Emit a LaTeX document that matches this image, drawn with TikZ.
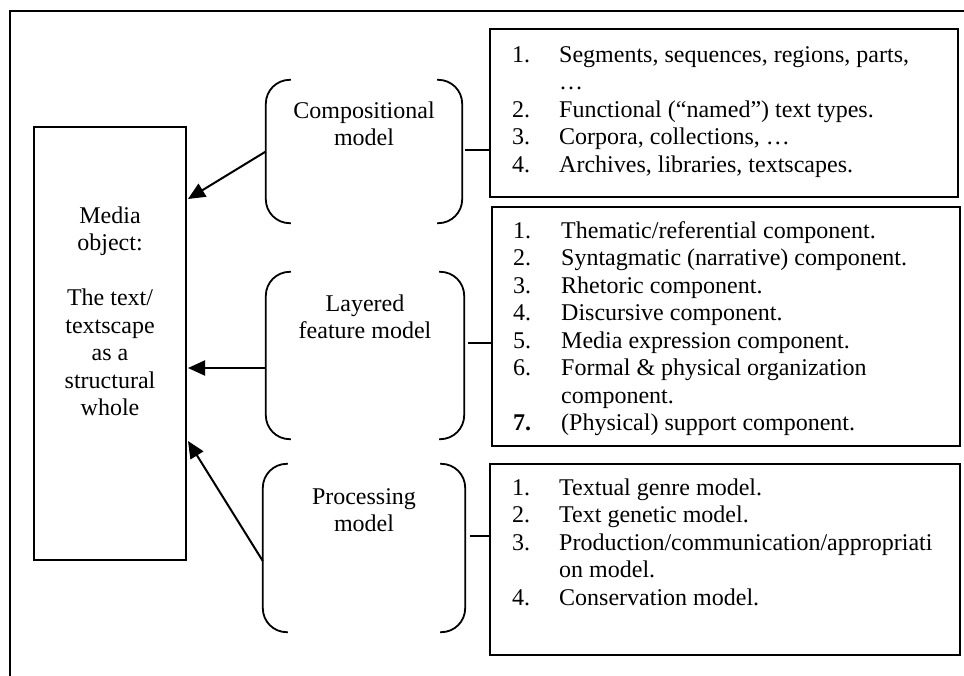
\documentclass[tikz,border=0pt]{standalone}
\usepackage{fontspec}
\setmainfont{Liberation Serif}
\usetikzlibrary{arrows.meta}
\begin{document}
\begin{tikzpicture}[x=1pt,y=-1pt,
  frame/.style={line width=2.2pt},
  boxnode/.style={draw,line width=2pt,inner sep=0pt},
  brk/.style={inner sep=0pt},
  paren/.style={line width=1.8pt,rounded corners=24pt},
  arr/.style={line width=2pt,-{Triangle[length=17pt,width=15pt]}},
  conn/.style={line width=2pt},
  txt/.style={inner sep=0pt,font=\fontsize{24}{27.5}\selectfont},
]
\useasboundingbox (0,0) rectangle (964,675);
% outer frame
\coordinate (fa) at (964,11);
\coordinate (fb) at (10,11);
\coordinate (fc) at (10,676);
\draw[frame] (fa) -- (fb) -- (fc);

% media box
\node[boxnode,minimum width=152pt,minimum height=433pt] (media) at (110,343.5) {};
\node[txt,anchor=base] (mediat) at (110,223) {\begin{tabular}[t]{@{}c@{}}Media\\object:\\ \\The text/\\textscape\\as a\\structural\\whole\end{tabular}};

% brackets
\node[brk,minimum width=196pt,minimum height=143pt] (comp) at (364,151.5) {};
\node[brk,minimum width=198pt,minimum height=167pt] (lay) at (365,355.5) {};
\node[brk,minimum width=202pt,minimum height=168pt] (proc) at (364,548) {};
\foreach \b in {comp,lay,proc}{
  \draw[paren] ([xshift=25pt]\b.north west) -- (\b.north west) -- (\b.south west) -- ([xshift=25pt]\b.south west);
  \draw[paren] ([xshift=-25pt]\b.north east) -- (\b.north east) -- (\b.south east) -- ([xshift=-25pt]\b.south east);
}
\node[txt,anchor=base] (compt) at (364,118) {\begin{tabular}[t]{@{}c@{}}Compositional\\model\end{tabular}};
\node[txt,anchor=base] (layt) at (365,311) {\begin{tabular}[t]{@{}c@{}}Layered\\feature model\end{tabular}};
\node[txt,anchor=base] (proct) at (364,504) {\begin{tabular}[t]{@{}c@{}}Processing\\model\end{tabular}};

% list boxes
\node[boxnode,minimum width=468pt,minimum height=168pt] (complist) at (724,113) {};
\node[boxnode,minimum width=468pt,minimum height=239pt] (laylist) at (726,326.5) {};
\node[boxnode,minimum width=470pt,minimum height=191pt] (proclist) at (725,559.5) {};

\node[txt,anchor=base west] (complistt) at (512,62) {\begin{tabular}[t]{@{}p{47pt}@{}l@{}}1.&Segments, sequences, regions, parts,\\ &…\\2.&Functional (“named”) text types.\\3.&Corpora, collections, …\\4.&Archives, libraries, textscapes.\end{tabular}};
\node[txt,anchor=base west] (laylistt) at (513,238) {\begin{tabular}[t]{@{}p{48pt}@{}l@{}}1.&Thematic/referential component.\\2.&Syntagmatic (narrative) component.\\3.&Rhetoric component.\\4.&Discursive component.\\5.&Media expression component.\\6.&Formal \& physical organization\\ &component.\\\textbf{7.}&(Physical) support component.\end{tabular}};
\node[txt,anchor=base west] (proclistt) at (512,495) {\begin{tabular}[t]{@{}p{47pt}@{}l@{}}1.&Textual genre model.\\2.&Text genetic model.\\3.&Production/communication/appropriati\\ &on model.\\4.&Conservation model.\end{tabular}};

% arrows into media box
\coordinate (m1) at (188,199);
\coordinate (m2) at (188,368);
\coordinate (m3) at (188,441);
\draw[arr] (comp.west) -- (m1);
\draw[arr] (lay.west |- m2) -- (m2);
\draw[arr] ([yshift=-13pt]proc.west) -- (m3);

% connectors to lists
\draw[conn] ([xshift=3pt]comp.east |- 0,150) -- (complist.west |- 0,150);
\draw[conn] ([xshift=4pt]lay.east |- 0,343) -- (laylist.west |- 0,343);
\draw[conn] ([xshift=5pt]proc.east |- 0,536) -- (proclist.west |- 0,536);
\end{tikzpicture}
\end{document}
